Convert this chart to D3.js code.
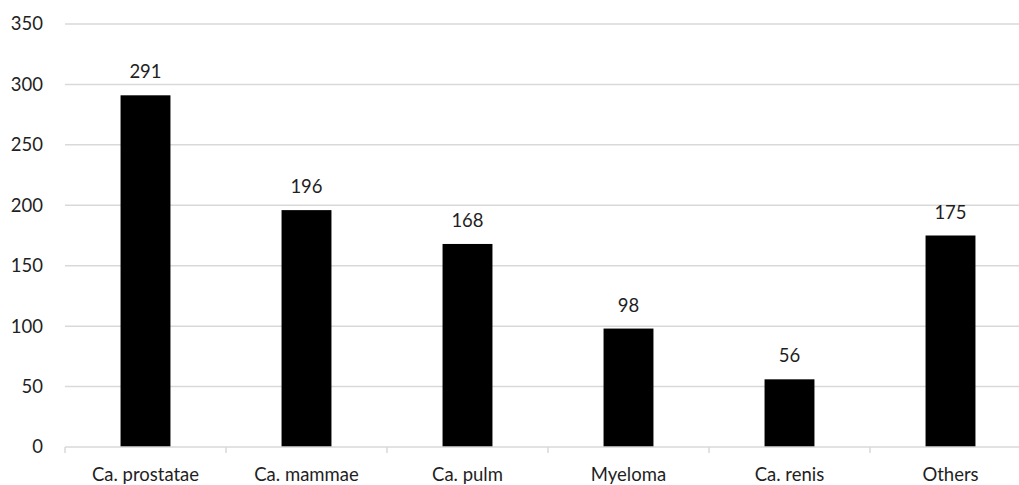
<!DOCTYPE html>
<html>
<head>
<meta charset="utf-8">
<script src="https://cdn.jsdelivr.net/npm/d3@7"></script>
<style>
  html, body { margin: 0; padding: 0; background: #fff; overflow: hidden; }
  svg text { font-family: Lato, "Liberation Sans", sans-serif; fill: #1f1f1f; }
</style>
</head>
<body>
<svg id="chart" width="1019" height="485"></svg>
<script>
// Tumour types and case counts
const categories = ["Ca. prostatae", "Ca. mammae", "Ca. pulm", "Myeloma", "Ca. renis", "Others"];
const counts = [291, 196, 168, 98, 56, 175];
const yTicks = [0, 50, 100, 150, 200, 250, 300, 350];

const svg = d3.select("#chart");
const margin = { left: 65, top: 24, right: -12, bottom: 38 };
const W = 1019, H = 485;
const fontSize = 18.5;

const x = d3.scaleBand()
  .domain(categories)
  .range([margin.left, W - margin.right])
  .paddingInner(0.69)
  .paddingOuter(0.345);

const y = d3.scaleLinear()
  .domain([0, 350])
  .range([H - margin.bottom, margin.top]);

// horizontal gridlines
svg.append("g")
  .selectAll("line")
  .data(yTicks.filter(d => d > 0))
  .join("line")
  .attr("x1", margin.left)
  .attr("x2", W - margin.right)
  .attr("y1", d => y(d))
  .attr("y2", d => y(d))
  .attr("stroke", "#d9d9d9")
  .attr("stroke-width", 1.5);

// y axis labels
const yAxis = d3.axisLeft(y).tickValues(yTicks).tickSize(0).tickPadding(22);
svg.append("g")
  .attr("transform", `translate(${margin.left},0)`)
  .call(yAxis)
  .call(g => g.select(".domain").remove())
  .call(g => g.selectAll("text").attr("font-size", fontSize).attr("font-family", null).attr("fill", "#1f1f1f"));
svg.selectAll("g").attr("font-family", null);

// bars
svg.append("g")
  .selectAll("rect")
  .data(categories)
  .join("rect")
  .attr("x", d => x(d))
  .attr("width", x.bandwidth())
  .attr("y", (d, i) => y(counts[i]))
  .attr("height", (d, i) => y(0) - y(counts[i]))
  .attr("fill", "#000");

// baseline and category boundary ticks
const step = x.step();
const x0 = margin.left;
svg.append("line")
  .attr("x1", x0).attr("x2", W - margin.right)
  .attr("y1", y(0)).attr("y2", y(0))
  .attr("stroke", "#d9d9d9").attr("stroke-width", 1.5);
svg.append("g")
  .selectAll("line")
  .data(d3.range(categories.length + 1))
  .join("line")
  .attr("x1", i => x0 + i * step)
  .attr("x2", i => x0 + i * step)
  .attr("y1", y(0))
  .attr("y2", y(0) + 6)
  .attr("stroke", "#d9d9d9").attr("stroke-width", 1.5);

// category labels
svg.append("g")
  .selectAll("text")
  .data(categories)
  .join("text")
  .attr("x", d => x(d) + x.bandwidth() / 2)
  .attr("y", y(0) + 34)
  .attr("text-anchor", "middle")
  .attr("font-size", fontSize)
  .text(d => d);

// value labels
svg.append("g")
  .selectAll("text")
  .data(categories)
  .join("text")
  .attr("x", d => x(d) + x.bandwidth() / 2)
  .attr("y", (d, i) => y(counts[i]) - 17)
  .attr("text-anchor", "middle")
  .attr("font-size", fontSize)
  .text((d, i) => counts[i]);
</script>
</body>
</html>
